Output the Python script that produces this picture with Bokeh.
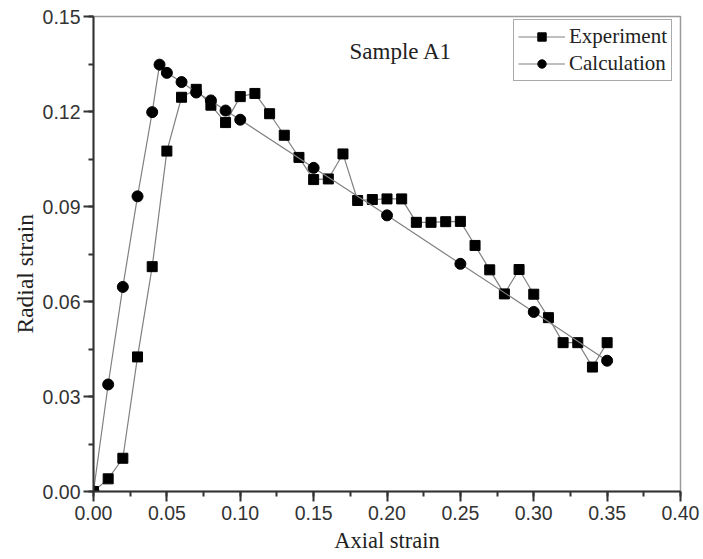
from bokeh.plotting import figure
from bokeh.models import (Range1d, SingleIntervalTicker, NumeralTickFormatter,
                          Legend, LegendItem, ColumnDataSource, Title)
from bokeh.core.properties import value
from bokeh.embed import file_html
from bokeh.resources import INLINE

# Experiment data
exp_x = [0.00, 0.01, 0.02, 0.03, 0.04, 0.05, 0.06, 0.07, 0.08, 0.09, 0.10, 0.11,
         0.12, 0.13, 0.14, 0.15, 0.16, 0.17, 0.18, 0.19, 0.20, 0.21, 0.22, 0.23,
         0.24, 0.25, 0.26, 0.27, 0.28, 0.29, 0.30, 0.31, 0.32, 0.33, 0.34, 0.35]
exp_y = [0.000, 0.004, 0.0105, 0.0425, 0.071, 0.1075, 0.1245, 0.127, 0.122, 0.1165,
         0.1247, 0.1257, 0.1193, 0.1125, 0.1055, 0.0985, 0.0987, 0.1066, 0.0919,
         0.0922, 0.0924, 0.0924, 0.085, 0.085, 0.0852, 0.0853, 0.0777, 0.070,
         0.0624, 0.0701, 0.0623, 0.0549, 0.047, 0.047, 0.0393, 0.047]

# Calculation data
calc_x = [0.00, 0.01, 0.02, 0.03, 0.04, 0.045, 0.05, 0.06, 0.07, 0.08, 0.09, 0.10,
          0.15, 0.20, 0.25, 0.30, 0.35]
calc_y = [0.000, 0.0338, 0.0646, 0.0932, 0.1198, 0.1348, 0.1322, 0.1293, 0.126,
          0.1235, 0.1203, 0.1174, 0.1022, 0.0872, 0.0719, 0.0567, 0.0413]

x_ticks_interval = 0.05
y_ticks_interval = 0.03
annotation = "Sample A1"
x_label = "Axial strain"
y_label = "Radial strain"

serif = "Liberation Serif"
sans = "Liberation Sans"

p = figure(width=700, height=556, output_backend="svg", toolbar_location=None,
           x_range=Range1d(0, 0.40), y_range=Range1d(0, 0.15),
           min_border_left=93, min_border_right=20, min_border_top=16,
           min_border_bottom=65)

p.grid.visible = False
p.background_fill_color = "white"
p.border_fill_color = "white"
p.outline_line_color = "#9a9a9a"
p.outline_line_width = 1.5

p.xaxis.ticker = SingleIntervalTicker(interval=x_ticks_interval, num_minor_ticks=2)
p.yaxis.ticker = SingleIntervalTicker(interval=y_ticks_interval, num_minor_ticks=2)
p.xaxis.formatter = NumeralTickFormatter(format="0.00")
p.yaxis.formatter = NumeralTickFormatter(format="0.00")

for ax in (p.xaxis[0], p.yaxis[0]):
    ax.axis_line_color = "#333333"
    ax.axis_line_width = 2
    ax.major_tick_line_color = "#333333"
    ax.major_tick_line_width = 2
    ax.minor_tick_line_color = "#333333"
    ax.minor_tick_line_width = 2
    ax.major_tick_in = 0
    ax.major_tick_out = 10
    ax.minor_tick_in = 0
    ax.minor_tick_out = 5
    ax.major_label_text_font = sans
    ax.major_label_text_font_size = "19.5px"
    ax.major_label_text_color = "#333333"
    ax.axis_label_text_font = serif
    ax.axis_label_text_font_size = "22.5px"
    ax.axis_label_text_font_style = "normal"
    ax.axis_label_text_color = "#222222"

p.xaxis.axis_label = x_label
p.xaxis.major_label_standoff = 4
p.yaxis.major_label_standoff = 3
p.xaxis.axis_label_standoff = 5

ytitle = Title(text=y_label, align="left", offset=158,
               text_font=serif, text_font_size="23.5px",
               text_font_style="normal", text_color="#222222",
               standoff=4)
p.add_layout(ytitle, "left")

line_color = "#808080"
exp_src = ColumnDataSource(dict(x=exp_x, y=exp_y))
calc_src = ColumnDataSource(dict(x=calc_x, y=calc_y))

l1 = p.line("x", "y", source=exp_src, line_color=line_color, line_width=1.2)
m1 = p.scatter("x", "y", source=exp_src, marker="square", size=10,
               fill_color="black", line_color="black")
l2 = p.line("x", "y", source=calc_src, line_color=line_color, line_width=1.2)
m2 = p.scatter("x", "y", source=calc_src, marker="circle", size=11,
               fill_color="black", line_color="black")

p.text(x=[0.2095], y=[0.1390], text=[annotation], text_font=value(serif),
       text_font_size="23px", text_align="center", text_baseline="alphabetic",
       text_color="#222222")

legend = Legend(items=[LegendItem(label="Experiment", renderers=[l1, m1]),
                       LegendItem(label="Calculation", renderers=[l2, m2])],
                location=(420, 410))
legend.label_text_font = serif
legend.label_text_font_size = "21px"
legend.label_text_color = "#222222"
legend.glyph_width = 47
legend.glyph_height = 21
legend.label_height = 21
legend.label_standoff = 4
legend.spacing = 2
legend.padding = 4
legend.margin = 0
legend.border_line_color = "#555555"
legend.border_line_width = 1
legend.background_fill_alpha = 1
p.add_layout(legend)

open("out.html", "w").write(file_html(p, INLINE))
